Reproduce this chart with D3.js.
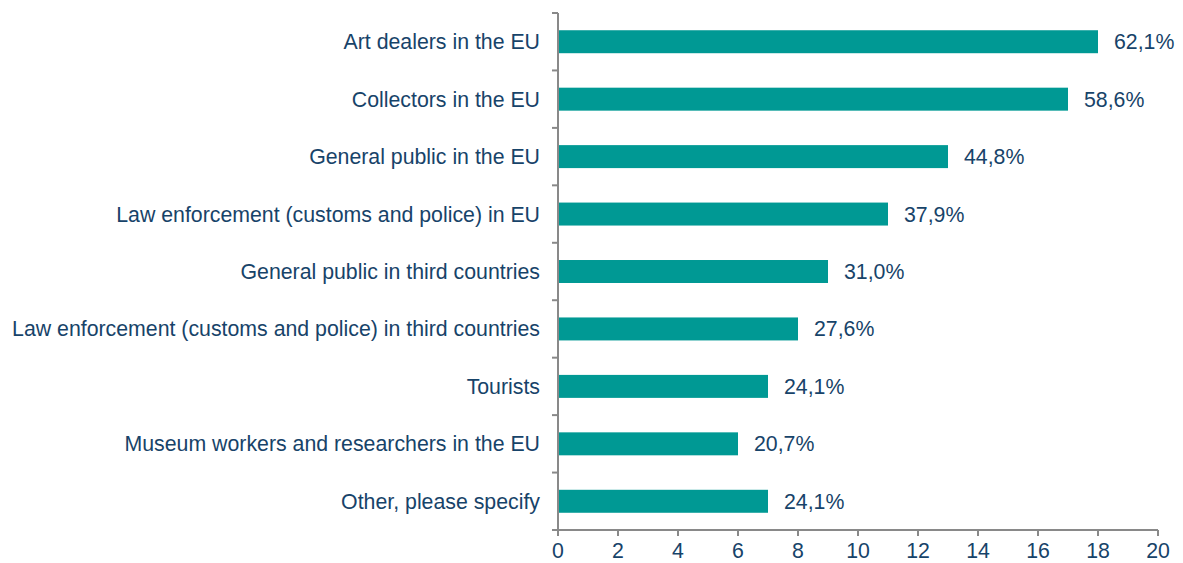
<!DOCTYPE html>
<html><head><meta charset="utf-8">
<script src="https://cdn.jsdelivr.net/npm/d3@7"></script>
<style>
body{margin:0;background:#fff;}
text{font-family:"Liberation Sans",Arial,sans-serif;}
</style></head>
<body><svg id="c" width="1183" height="563"></svg>
<script>
const categories = ["Art dealers in the EU","Collectors in the EU","General public in the EU","Law enforcement (customs and police) in EU","General public in third countries","Law enforcement (customs and police) in third countries","Tourists","Museum workers and researchers in the EU","Other, please specify"];
const values = [18,17,13,11,9,8,7,6,7];
const pctLabels = ["62,1%","58,6%","44,8%","37,9%","31,0%","27,6%","24,1%","20,7%","24,1%"];
const xTicks = [0,2,4,6,8,10,12,14,16,18,20];

(function(){
const svg = d3.select("#c");
const mL = 558, mR = 1158, mT = 13, mB = 530;
const textColor = "#174369", axisColor = "#898989", barColor = "#009994";
const fs = 21.3;

const x = d3.scaleLinear().domain([0,20]).range([mL,mR]);
const y = d3.scaleBand().domain(categories).range([mT,mB]).paddingInner(0.6).paddingOuter(0.3);
const yb = d3.scaleBand().domain(categories).range([mT,mB]);

svg.selectAll("rect.bar").data(values).enter().append("rect")
  .attr("x", x(0)).attr("y",(d,i)=>y(categories[i]))
  .attr("width", d=>x(d)-x(0)).attr("height", y.bandwidth())
  .attr("fill", barColor);

svg.selectAll("text.val").data(values).enter().append("text")
  .attr("x", d=>x(d)+16).attr("y",(d,i)=>y(categories[i])+y.bandwidth()/2)
  .attr("dy","0.35em").attr("font-size",fs).attr("fill",textColor)
  .text((d,i)=>pctLabels[i]);

svg.selectAll("text.cat").data(categories).enter().append("text")
  .attr("x", mL-18).attr("y", d=>yb(d)+yb.bandwidth()/2)
  .attr("dy","0.35em").attr("text-anchor","end").attr("font-size",fs).attr("fill",textColor)
  .text(d=>d);

const g = svg.append("g").attr("stroke",axisColor).attr("stroke-width",2);
g.append("line").attr("x1",mL).attr("x2",mL).attr("y1",mT).attr("y2",mB);
const bounds = categories.map(c=>yb(c)).concat([mB]);
g.selectAll("line.yt").data(bounds).enter().append("line")
  .attr("x1",mL-6).attr("x2",mL).attr("y1",d=>d).attr("y2",d=>d);
g.append("line").attr("x1",mL-6).attr("x2",mR).attr("y1",mB).attr("y2",mB);
g.selectAll("line.xt").data(xTicks).enter().append("line")
  .attr("x1",d=>x(d)).attr("x2",d=>x(d)).attr("y1",mB).attr("y2",mB+6);
svg.selectAll("text.xt").data(xTicks).enter().append("text")
  .attr("x",d=>x(d)).attr("y",mB+28).attr("text-anchor","middle")
  .attr("font-size",fs).attr("fill",textColor).text(d=>d);
})();
</script></body></html>
